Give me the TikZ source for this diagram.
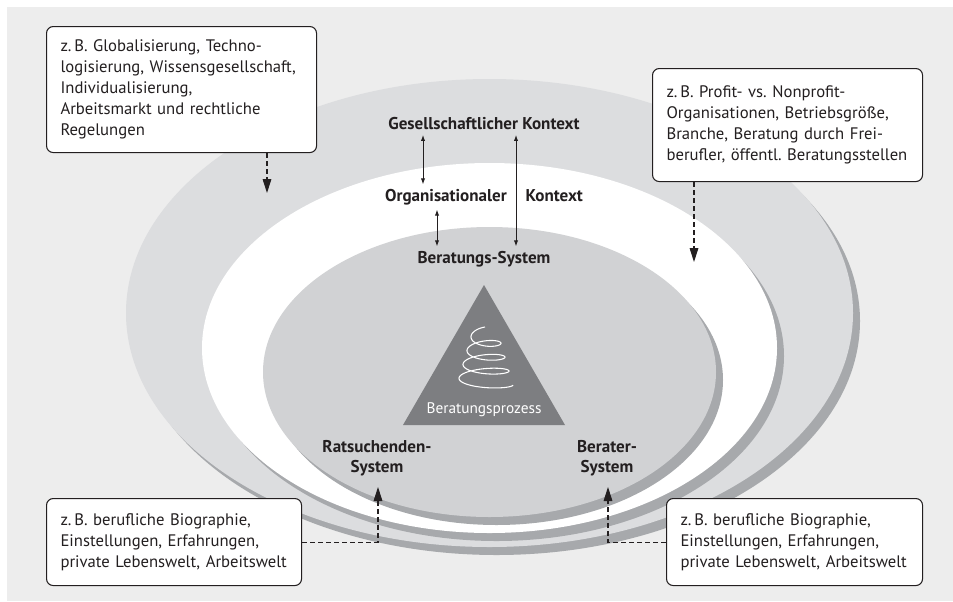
\documentclass[tikz,border=0pt]{standalone}
\usepackage{fontspec}
\setmainfont{PT Sans}
\usetikzlibrary{arrows.meta}

\definecolor{bgGray}{HTML}{EDEDED}
\definecolor{outerGray}{HTML}{DCDDDF}
\definecolor{innerGray}{HTML}{D1D2D4}
\definecolor{shadowGray}{HTML}{A7A9AC}
\definecolor{triGray}{HTML}{7D7E81}
\definecolor{textDark}{HTML}{231F20}

\frenchspacing
\begin{document}
\begin{tikzpicture}[x=0.75pt,y=-0.75pt,
    infobox/.style={draw=textDark, line width=0.8pt, rounded corners=5pt, fill=white,
        anchor=north west, align=left, inner xsep=10.5pt, inner ysep=0pt,
        font=\fontsize{12.5}{15.75}\selectfont, text=textDark},
    ctxlabel/.style={font=\bfseries\fontsize{12.8}{15}\selectfont, text=textDark, align=center},
    dasharrow/.style={draw=textDark, line width=0.8pt, dash pattern=on 3.5pt off 2.5pt,
        -{Triangle[length=10.5pt,width=6.5pt]}},
    biarrow/.style={draw=textDark, line width=0.7pt,
        {Latex[length=4.5pt,width=3.2pt]}-{Latex[length=4.5pt,width=3.2pt]}}]
    \useasboundingbox (0,0) rectangle (953,601);
    \fill [bgGray] (7,7) rectangle (953,601);

    % Ellipses:
    % every ring gets a darker copy shifted right and down as its shadow
    \fill [shadowGray] (496.5,321) ellipse (363.5 and 234);
    \fill [outerGray] (489.5,313) ellipse (363.5 and 234);
    \fill [shadowGray] (496.5,356) ellipse (287.5 and 185);
    \fill [white] (489.5,348) ellipse (287.5 and 185);
    \fill [shadowGray] (496.5,380) ellipse (226.5 and 145);
    \fill [innerGray] (489.5,372) ellipse (226.5 and 145);

    % Triangle with the spiral:
    \fill [triGray] (484,285) -- (403,425) -- (565,425) -- cycle;
    \draw [white, line width=0.8pt] plot [domain=0:1350, samples=240, smooth, variable=\t]
        ({485-(13+15*(\t/1350))*sin(\t)}, {333+52*(\t/1350)-6*cos(\t)});
    \node [font=\fontsize{11.5}{14}\selectfont, text=white] (prozess) at (484,410) {Beratungsprozess};

    % Labels of the rings:
    \node [ctxlabel] (gesell) at (484,124) {Gesellschaftlicher Kontext};
    \node [ctxlabel] (orga) at (484,197) {Organisationaler\hspace{1.1em}Kontext};
    \node [ctxlabel] (berat) at (484,259) {Beratungs-System};
    \node [ctxlabel] (rats) at (377,458) {Ratsuchenden-\\System};
    \node [ctxlabel] (berater) at (607,458) {Berater-\\System};

    % Arrows between the contexts:
    \coordinate (lineA) at (423,0);
    \coordinate (lineB) at (516,0);
    \coordinate (lineC) at (437,0);
    \draw [biarrow] (gesell.south -| lineA) -- (orga.north -| lineA);
    \draw [biarrow] (gesell.south -| lineB) -- (berat.north -| lineB);
    \draw [biarrow] (orga.south -| lineC) -- (berat.north -| lineC);

    % Boxes with the examples:
    \node [infobox, text width=181.5pt, minimum height=94.5pt] (boxGes) at (46,26)
        {z.\,B. Globalisierung, Techno-\\logisierung, Wissensgesellschaft,\\Individualisierung,\\Arbeitsmarkt und rechtliche\\Regelungen};
    \node [infobox, text width=181.5pt, minimum height=84.75pt] (boxOrg) at (652,68)
        {z.\,B. Profit- vs. Nonprofit-\\Organisationen, Betriebsgröße,\\Branche, Beratung durch Frei-\\berufler, öffentl. Beratungsstellen};
    \node [infobox, text width=170.25pt, minimum height=65.25pt] (boxRat) at (46,498)
        {z.\,B. berufliche Biographie,\\Einstellungen, Erfahrungen,\\private Lebenswelt, Arbeitswelt};
    \node [infobox, text width=171pt, minimum height=65.25pt] (boxBer) at (666,498)
        {z.\,B. berufliche Biographie,\\Einstellungen, Erfahrungen,\\private Lebenswelt, Arbeitswelt};

    % Dashed arrows from the boxes:
    \coordinate (tipGes) at (267,193);
    \coordinate (tipOrg) at (694,262);
    \coordinate (tipRat) at (378,487);
    \coordinate (tipBer) at (608,487);
    \draw [dasharrow] (tipGes |- boxGes.south) -- (tipGes);
    \draw [dasharrow] (tipOrg |- boxOrg.south) -- (tipOrg);
    \draw [dasharrow] (boxRat.east) -| (tipRat);
    \draw [dasharrow] (boxBer.west) -| (tipBer);
\end{tikzpicture}
\end{document}
